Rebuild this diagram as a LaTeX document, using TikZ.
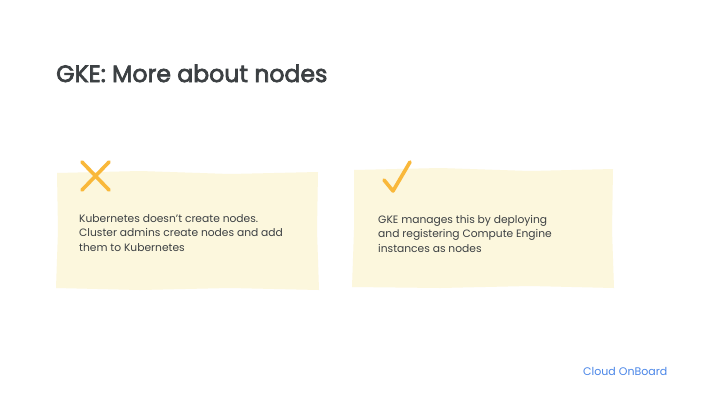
\documentclass[tikz,border=0pt]{standalone}
\usepackage{fontspec}
\setmainfont{Poppins}
\newfontfamily\titleFont[FakeBold=3]{Poppins}
\usepackage{tikz}
\usetikzlibrary{positioning}
\definecolor{noteYellow}{HTML}{FCF7DD}
\definecolor{markOrange}{HTML}{F9B83A}
\definecolor{textGray}{HTML}{3C4043}
\definecolor{cloudBlue}{HTML}{4A86E8}

\begin{document}
\begin{tikzpicture}[x=1pt, y=-1pt,
		noteText/.style={align=left, anchor=base west, inner sep=0pt, text=textGray, font=\fontsize{10.7}{14.5}\selectfont},
		markLine/.style={draw=markOrange, line width=3.6pt, line cap=round, line join=round}]
		\useasboundingbox[fill=white] (0,0) rectangle (717,402);
		% title
		\node[anchor=base west, inner sep=0pt, text=textGray, font=\titleFont\fontsize{23.6}{26}\selectfont] (title) at (56,82) {GKE: More about nodes};
		%\begin{package}{left note}
			\fill[noteYellow] (57,173) -- (140,171) -- (230,174) -- (318,172) -- (317,230) -- (319,290) -- (230,288) -- (140,290) -- (56,288) -- (58,230) -- cycle;
			\draw[markLine] (82,162) -- (109,190);
			\draw[markLine] (109,162) -- (82,190);
			% base anchor sits on the last line
			\node[noteText] (noteNo) at (79,251) {Kubernetes doesn't create nodes.\\Cluster admins create nodes and add\\them to Kubernetes};
		%\end{package}
		%\begin{package}{right note}
			\fill[noteYellow] (354,170) -- (440,168) -- (530,171) -- (613,169) -- (612,230) -- (614,288) -- (530,286) -- (440,288) -- (352,287) -- (354,230) -- cycle;
			\draw[markLine] (384,180) -- (393,191) -- (410,162);
			\node[noteText] (noteYes) at (378,252) {GKE manages this by deploying\\and registering Compute Engine\\instances as nodes};
		%\end{package}
		\node[anchor=base west, inner sep=0pt, text=cloudBlue, font=\fontsize{11}{12}\selectfont] (brand) at (583,375) {Cloud OnBoard};
	\end{tikzpicture}
\end{document}
